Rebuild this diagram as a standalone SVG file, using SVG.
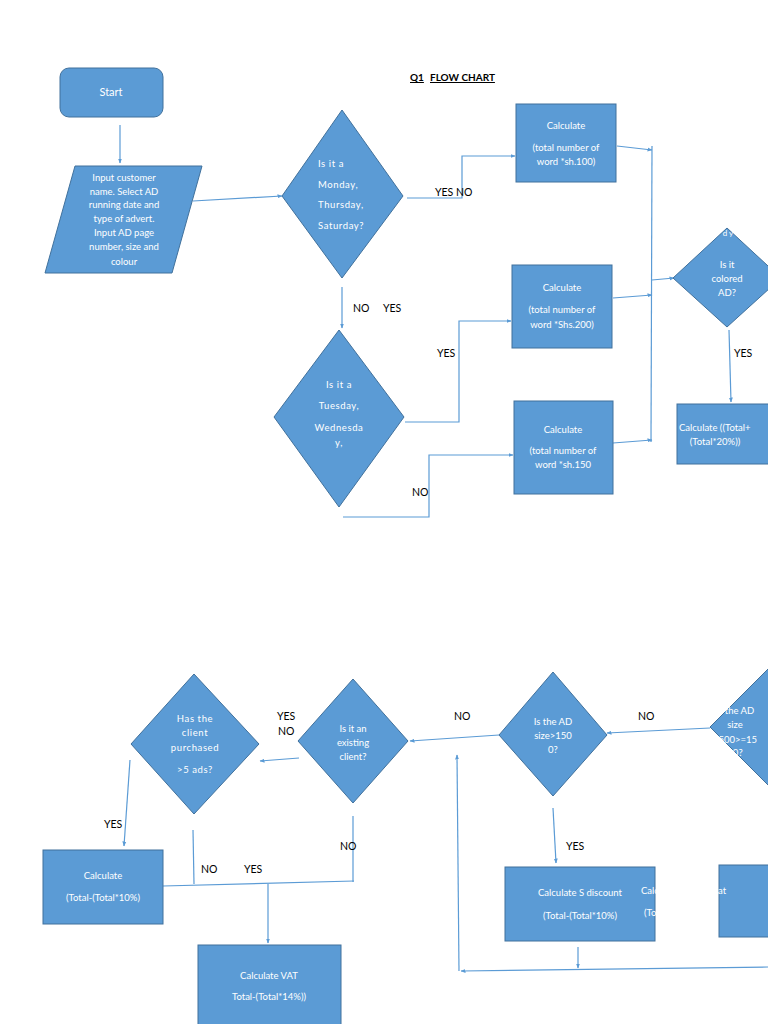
<svg xmlns="http://www.w3.org/2000/svg" width="768" height="1024" viewBox="0 0 768 1024">
<defs>
<marker id="ah" viewBox="0 0 10 10" refX="9" refY="5" markerWidth="5" markerHeight="5" orient="auto-start-reverse" markerUnits="userSpaceOnUse">
<path d="M0,1 L10,5 L0,9 z" fill="#5B9BD5"/>
</marker>
<style>
.n{fill:#5B9BD5;stroke:#41719C;stroke-width:1}
.t{font-family:Lato,"Liberation Sans",sans-serif;font-size:9.5px;fill:#FFFFFF;text-anchor:middle}
.tl{font-family:Lato,"Liberation Sans",sans-serif;font-size:9.5px;fill:#FFFFFF;text-anchor:start}
.ts{font-family:Lato,"Liberation Sans",sans-serif;font-size:9.5px;fill:#FFFFFF;letter-spacing:0.6px}
.l{font-family:Lato,"Liberation Sans",sans-serif;font-size:10.5px;fill:#000000}
.h{font-family:Lato,"Liberation Sans",sans-serif;font-size:10px;font-weight:bold;fill:#000000}
.c{fill:none;stroke:#5B9BD5;stroke-width:1.2}
.ca{fill:none;stroke:#5B9BD5;stroke-width:1.2;marker-end:url(#ah)}
</style>
</defs>
<rect width="768" height="1024" fill="#FFFFFF"/>

<g id="title">
<text class="h" x="410" y="81" text-decoration="underline">Q1</text>
<text class="h" x="430" y="81" text-decoration="underline">FLOW CHART</text>
</g>

<g id="connectors">
<line class="ca" x1="120" y1="125" x2="120" y2="163"/>
<line class="ca" x1="193" y1="201" x2="282" y2="196"/>
<polyline class="ca" points="407,198 462,198 462,156 515,156"/>
<line class="ca" x1="617" y1="146" x2="652" y2="150"/>
<line class="c" x1="652" y1="146" x2="651" y2="442"/>
<line class="ca" x1="613" y1="298" x2="652" y2="295"/>
<line class="ca" x1="613" y1="443" x2="652" y2="440"/>
<line class="ca" x1="652" y1="280" x2="674" y2="278"/>
<line class="ca" x1="729" y1="330" x2="731" y2="402"/>
<line class="ca" x1="342" y1="287" x2="342" y2="328"/>
<polyline class="ca" points="405,422 459,422 459,321 511,321"/>
<polyline class="ca" points="343,517 429,517 429,455 513,455"/>

<line class="ca" x1="710" y1="728" x2="607" y2="733"/>
<line class="ca" x1="499" y1="735" x2="410" y2="741"/>
<line class="ca" x1="299" y1="758" x2="260" y2="761"/>
<polyline class="ca" points="130,760 124,846"/>
<line class="c" x1="193" y1="830" x2="194" y2="884"/>
<line class="c" x1="353" y1="816" x2="353" y2="882"/>
<line class="c" x1="163" y1="886" x2="354" y2="881"/>
<line class="ca" x1="268" y1="884" x2="268" y2="943"/>
<line class="ca" x1="553" y1="808" x2="556" y2="863"/>
<line class="ca" x1="578" y1="947" x2="578" y2="968"/>
<line class="ca" x1="768" y1="967" x2="461" y2="971"/>
<line class="ca" x1="459" y1="971" x2="457" y2="755"/>
</g>

<g id="labels">
<text class="l" x="435" y="196">YES NO</text>
<text class="l" x="353" y="312">NO</text>
<text class="l" x="383" y="312">YES</text>
<text class="l" x="437" y="357">YES</text>
<text class="l" x="412" y="496">NO</text>
<text class="l" x="734" y="357">YES</text>
<text class="l" x="638" y="720">NO</text>
<text class="l" x="454" y="720">NO</text>
<text class="l" x="277" y="720">YES</text>
<text class="l" x="278" y="735">NO</text>
<text class="l" x="104" y="828">YES</text>
<text class="l" x="201" y="873">NO</text>
<text class="l" x="244" y="873">YES</text>
<text class="l" x="340" y="850">NO</text>
<text class="l" x="566" y="850">YES</text>
</g>

<g id="start">
<rect class="n" x="60" y="68" width="103" height="49" rx="9"/>
<text class="t" x="111" y="96" style="font-size:11px">Start</text>
</g>

<g id="input">
<polygon class="n" points="75,166 202,166 172,273 45,273"/>
<text class="t" x="124" y="181">Input customer</text>
<text class="t" x="124" y="195">name. Select AD</text>
<text class="t" x="124" y="208">running date and</text>
<text class="t" x="124" y="222">type of advert.</text>
<text class="t" x="124" y="236">Input AD page</text>
<text class="t" x="124" y="250">number, size and</text>
<text class="t" x="124" y="265">colour</text>
</g>

<g id="dec-mon">
<polygon class="n" points="342,110 403,196 342,278 282,196"/>
<text class="ts" x="318" y="167">Is it a</text>
<text class="ts" x="318" y="188">Monday,</text>
<text class="ts" x="318" y="208">Thursday,</text>
<text class="ts" x="318" y="229">Saturday?</text>
</g>

<g id="calc100">
<rect class="n" x="516" y="104" width="100" height="78"/>
<text class="t" x="566" y="129">Calculate</text>
<text class="t" x="566" y="151">(total number of</text>
<text class="t" x="566" y="165">word *sh.100)</text>
</g>

<g id="dec-tue">
<polygon class="n" points="339,330 404,417 339,507 274,417"/>
<text class="ts" x="339" y="388" text-anchor="middle">Is it a</text>
<text class="ts" x="339" y="409" text-anchor="middle">Tuesday,</text>
<text class="ts" x="339" y="431" text-anchor="middle">Wednesda</text>
<text class="ts" x="339" y="446" text-anchor="middle">y,</text>
</g>

<g id="calc200">
<rect class="n" x="512" y="265" width="100" height="83"/>
<text class="t" x="562" y="291">Calculate</text>
<text class="t" x="562" y="313">(total number of</text>
<text class="t" x="562" y="328">word *Shs.200)</text>
</g>

<g id="calc150">
<rect class="n" x="514" y="401" width="99" height="93"/>
<text class="t" x="563" y="433">Calculate</text>
<text class="t" x="563" y="454">(total number of</text>
<text class="t" x="563" y="468">word *sh.150</text>
</g>

<g id="dec-colored">
<polygon class="n" points="727,228 781,278 727,327 673,278"/>
<text class="t" x="728" y="236" style="font-size:8px">d y</text>
<text class="t" x="727" y="268">Is it</text>
<text class="t" x="727" y="282">colored</text>
<text class="t" x="727" y="296">AD?</text>
</g>

<g id="calc20">
<rect class="n" x="677" y="404" width="104" height="60"/>
<text class="tl" x="679" y="431">Calculate ((Total+</text>
<text class="t" x="715" y="445">(Total*20%))</text>
</g>

<g id="dec-size500">
<polygon class="n" points="770,667 830,727 770,787 710,727"/>
<text class="t" x="735" y="714">Is the AD</text>
<text class="t" x="735" y="728">size</text>
<text class="t" x="735" y="743">&lt;500&gt;=15</text>
<text class="t" x="735" y="756">00?</text>
</g>

<g id="dec-size1500">
<polygon class="n" points="553,672 607,735 553,796 499,735"/>
<text class="t" x="553" y="725">Is the AD</text>
<text class="t" x="553" y="739">size&gt;150</text>
<text class="t" x="553" y="753">0?</text>
</g>

<g id="dec-existing">
<polygon class="n" points="353,679 408,741 353,803 298,741"/>
<text class="t" x="353" y="732">Is it an</text>
<text class="t" x="353" y="746">existing</text>
<text class="t" x="353" y="760">client?</text>
</g>

<g id="dec-purchased">
<polygon class="n" points="194,674 259,744 194,814 131,744"/>
<text class="ts" x="195" y="722" text-anchor="middle">Has the</text>
<text class="ts" x="195" y="736" text-anchor="middle">client</text>
<text class="ts" x="195" y="751" text-anchor="middle">purchased</text>
<text class="ts" x="195" y="773" text-anchor="middle">&gt;5 ads?</text>
</g>

<g id="calc10">
<rect class="n" x="43" y="850" width="120" height="74"/>
<text class="t" x="103" y="879">Calculate</text>
<text class="t" x="103" y="901">(Total-(Total*10%)</text>
</g>

<g id="calc-vat">
<rect class="n" x="198" y="945" width="143" height="85"/>
<text class="t" x="269" y="979">Calculate VAT</text>
<text class="t" x="269" y="1000">Total-(Total*14%))</text>
</g>

<g id="calc-sdiscount">
<rect class="n" x="505" y="867" width="150" height="74"/>
<text class="t" x="580" y="896">Calculate S discount</text>
<text class="t" x="580" y="919">(Total-(Total*10%)</text>
<text class="tl" x="641" y="894">Calc</text>
<text class="tl" x="644" y="916">(To</text>
</g>

<g id="calc-right">
<rect class="n" x="719" y="865" width="60" height="72"/>
<text class="tl" x="718" y="894">at</text>
</g>
</svg>
